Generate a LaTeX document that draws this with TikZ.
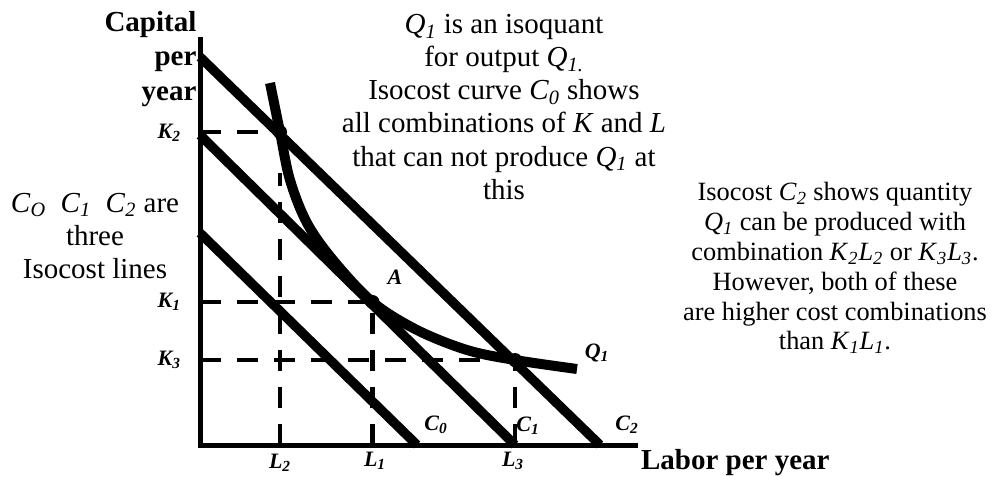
\documentclass[tikz,border=0pt]{standalone}
\usepackage{fontspec}
\setmainfont{Liberation Serif}
\usepackage{tikz}
\usetikzlibrary{positioning}

\newcommand{\subvar}[2]{\textit{#1}\textsubscript{\textit{#2}}}

\tikzset{
  axis/.style={line width=0.1cm},
  isocost/.style={line width=0.19cm},
  guide/.style={line width=0.09cm, dash pattern=on 0.42cm off 0.32cm},
  lbl/.style={font=\fontsize{12.5}{14}\selectfont\bfseries\itshape, inner sep=1pt},
  note/.style={align=center, font=\fontsize{16.5}{18.8}\selectfont, inner sep=0pt}
}

\begin{document}
\begin{tikzpicture}
  \useasboundingbox (-4,-0.62) rectangle (15.84,8.9);
  % Axes
  \coordinate (O) at (0,0);
  \coordinate (ytop) at (0,8.16);
  \coordinate (xend) at (8.76,0);
  \draw[axis] (ytop) -- (O) -- (xend);
  \node[anchor=east, align=right, font=\fontsize{16.5}{19.6}\selectfont\bfseries, inner sep=1pt] (ylab) at (-0.03,7.72) {Capital\\per\\year};
  \node[anchor=west, font=\fontsize{16.5}{19}\selectfont\bfseries, inner sep=1pt] (xlab) at (8.78,-0.36) {Labor per year};
  % Points
  \coordinate (P2) at (1.6,6.26);
  \coordinate (A) at (3.45,2.86);
  \coordinate (P3) at (6.3,1.7);
  \coordinate (L2top) at (1.6,5.44);
  % Guides
  \draw[guide] (0,6.26) -- (P2);
  \draw[guide] (1.6,0) -- (L2top);
  \draw[guide] (0,2.86) -- (A);
  \draw[guide] (3.45,0) -- (A);
  \draw[guide] (0,1.7) -- (P3);
  \draw[guide] (6.3,0) -- (P3);
  % Isocost lines
  \draw[isocost] (0,4.24) -- (4.34,0);
  \draw[isocost] (0,6.2) -- (6.3,0);
  \draw[isocost] (0,7.76) -- (8.0,0);
  % Isoquant
  \draw[line width=0.2cm] plot[smooth, tension=0.55] coordinates {(1.4,7.24) (P2) (1.8,5.3) (2.14,4.44) (2.66,3.7) (A) (4.34,2.3) (5.34,1.9) (P3) (7.54,1.52)};
  \fill (P2) circle (0.14);
  \fill (A) circle (0.14);
  \fill (P3) circle (0.14);
  % Labels
  \node[lbl, anchor=east] (k2) at (-0.34,6.24) {K\textsubscript{2}};
  \node[lbl, anchor=east] (k1) at (-0.34,2.86) {K\textsubscript{1}};
  \node[lbl, anchor=east] (k3) at (-0.34,1.7) {K\textsubscript{3}};
  \node[lbl] (l2) at (1.6,-0.36) {L\textsubscript{2}};
  \node[lbl] (l1) at (3.5,-0.32) {L\textsubscript{1}};
  \node[lbl] (l3) at (6.26,-0.32) {L\textsubscript{3}};
  \node[lbl] (alab) at (3.9,3.36) {A};
  \node[lbl] (qlab) at (7.94,1.84) {Q\textsubscript{1}};
  \node[lbl] (c0) at (4.72,0.4) {C\textsubscript{0}};
  \node[lbl] (c1) at (6.56,0.38) {C\textsubscript{1}};
  \node[lbl] (c2) at (8.54,0.4) {C\textsubscript{2}};
  % Notes
  \node[note] (left) at (-2.1,4.18) {\subvar{C}{O}\ \ \subvar{C}{1}\ \ \subvar{C}{2}\ are\\three\\Isocost lines};
  \node[note] (top) at (6.08,6.76) {\subvar{Q}{1} is an isoquant\\for output \subvar{Q}{1.}\\Isocost curve \subvar{C}{0} shows\\all combinations of \textit{K} and \textit{L}\\that can not produce \subvar{Q}{1} at\\this};
  \node[note, font=\fontsize{15}{17}\selectfont] (right) at (12.7,3.54) {Isocost \subvar{C}{2} shows quantity\\\subvar{Q}{1} can be produced with\\combination \subvar{K}{2}\subvar{L}{2} or \subvar{K}{3}\subvar{L}{3}.\\However, both of these\\are higher cost combinations\\than \subvar{K}{1}\subvar{L}{1}.};
\end{tikzpicture}
\end{document}
